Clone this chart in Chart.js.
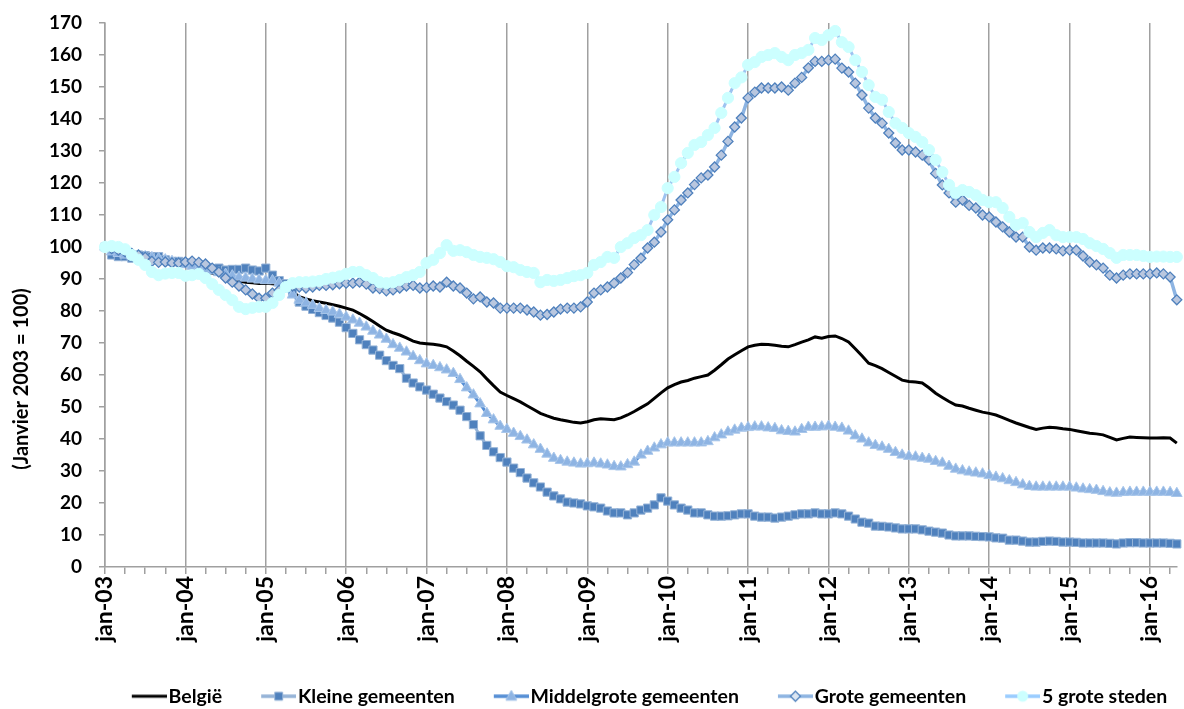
<!DOCTYPE html>
<html>
<head>
<meta charset="utf-8">
<script src="https://cdn.jsdelivr.net/npm/chart.js@4/dist/chart.umd.min.js"></script>
<style>
  html, body { margin: 0; padding: 0; background: #fff; }
</style>
</head>
<body>
<canvas id="chart" width="1184" height="709"></canvas>
<script>
// year labels shown on the x axis (one every 12 months)
const yearLabels = ['jan-03', 'jan-04', 'jan-05', 'jan-06', 'jan-07', 'jan-08', 'jan-09',
    'jan-10', 'jan-11', 'jan-12', 'jan-13', 'jan-14', 'jan-15', 'jan-16'];
const monthCount = 161; // jan-03 .. may-16

const seriesNames = ['België', 'Kleine gemeenten', 'Middelgrote gemeenten', 'Grote gemeenten', '5 grote steden'];
const yTitleText = '(Janvier 2003 = 100)';

const belgie = [
    100, 99.6, 99.2, 98.7, 98.2, 97.6, 97, 96.4, 95.8, 95.3, 94.8, 94.4,
    94, 93.5, 93, 92.4, 91.8, 91.2, 90.6, 90, 89.4, 89, 88.8, 88.6,
    88.7, 88.5, 88.2, 87.5, 86, 84.5, 83.8, 83.2, 82.8, 82.4, 82, 81.5,
    80.9, 80.3, 79.2, 78, 76.7, 75.3, 74, 73.2, 72.5, 71.6, 70.6, 70,
    69.8, 69.6, 69.3, 68.8, 67.5, 66, 64.3, 62.7, 61, 58.8, 56.7, 54.7,
    53.6, 52.6, 51.6, 50.4, 49.2, 48, 47.2, 46.5, 46, 45.6, 45.2, 45,
    45.4, 46, 46.3, 46.2, 46, 46.6, 47.5, 48.6, 49.8, 51, 52.7, 54.4,
    56, 57, 57.8, 58.3, 59, 59.5, 60, 61.5, 63.2, 65, 66.3, 67.6,
    68.8, 69.3, 69.6, 69.5, 69.3, 69, 68.8, 69.5, 70.3, 71, 71.9, 71.5,
    72, 72.2, 71.4, 70.3, 68.2, 66, 63.7, 62.9, 62, 60.8, 59.6, 58.4,
    58, 57.8, 57.5, 56, 54.3, 53, 51.7, 50.6, 50.3, 49.6, 49, 48.4,
    48, 47.5, 46.7, 45.8, 45, 44.3, 43.6, 43, 43.4, 43.7, 43.5, 43.2,
    43, 42.6, 42.2, 41.8, 41.6, 41.3, 40.5, 39.7, 40.2, 40.6, 40.5, 40.4,
    40.3, 40.3, 40.4, 40.3, 38.7
];

const kleine = [
    100, 97.5, 97, 97, 96.5, 97.5, 97.3, 97, 97, 96, 95.5, 95.5,
    95, 94.5, 94, 93.5, 93.2, 93.4, 92.8, 93, 93, 93.4, 92.8, 92.5,
    93.4, 91.2, 89.5, 88.5, 85.6, 82.8, 81.5, 80.5, 79.5, 78.6, 77.8, 76.5,
    74.8, 73, 71, 69.5, 67.8, 66.2, 64.5, 63, 62, 59, 57.5, 56.3,
    55.3, 54, 52.8, 51.7, 50.6, 49, 47, 44.5, 41, 38, 36, 34.2,
    32.8, 30.9, 29.5, 27.8, 26.3, 25, 23.4, 22.2, 21.3, 20.3, 20, 19.7,
    19.1, 18.8, 18.4, 17.5, 16.9, 16.9, 16.3, 16.9, 17.8, 18.4, 19.4, 21.6,
    20.6, 19.4, 18.4, 17.8, 16.9, 16.9, 16.3, 15.9, 15.9, 16, 16.3, 16.6,
    16.6, 15.9, 15.6, 15.6, 15.3, 15.6, 15.9, 16.3, 16.6, 16.6, 16.9, 16.6,
    16.6, 16.9, 16.6, 15.9, 15, 14, 13.7, 12.8, 12.7, 12.5, 12.2, 11.9,
    11.9, 11.9, 11.6, 11.2, 10.9, 10.6, 10, 9.7, 9.7, 9.7, 9.6, 9.5,
    9.4, 9.1, 9, 8.4, 8.4, 8.1, 7.8, 7.8, 8, 8.1, 8, 7.8,
    7.8, 7.7, 7.5, 7.5, 7.5, 7.5, 7.4, 7.2, 7.5, 7.6, 7.6, 7.5,
    7.5, 7.5, 7.5, 7.4, 7.2
];

const middelgrote = [
    100, 98.5, 98, 97.5, 97.2, 97.2, 97, 96.7, 96.4, 96, 95.5, 95,
    94.5, 94, 93.5, 93, 92.5, 92, 91.5, 91, 90.6, 90.3, 90, 89.7,
    89.5, 89.5, 88.7, 87, 85, 83.4, 82.5, 81.8, 80.8, 80.2, 79.7, 79,
    78.1, 77.2, 76.2, 75, 73.7, 72.5, 71.2, 69.5, 68.4, 67.2, 65.8, 64.5,
    63.5, 63, 62.3, 61.6, 60.5, 58.6, 56, 53.8, 51, 48, 46, 44,
    43, 41.8, 40.8, 39.7, 38.2, 36.8, 35.3, 34, 33.3, 32.8, 32.5, 32.2,
    32.3, 32.5, 32.2, 31.9, 31.4, 31.3, 32, 32.8, 35, 36.2, 37.2, 38.2,
    38.8, 38.8, 38.8, 38.8, 38.8, 38.8, 39.2, 40.4, 41.3, 42.2, 42.8, 43.4,
    43.6, 43.8, 43.8, 43.5, 43.3, 42.6, 42.4, 42.2, 43, 43.7, 43.7, 43.8,
    44, 43.7, 43.4, 42.5, 41, 40, 38.8, 38, 37.5, 36.8, 35.8, 35,
    34.6, 34.4, 34, 33.7, 33, 32.5, 31.5, 30.6, 30.1, 29.7, 29.4, 29.1,
    28.6, 28.1, 27.6, 27, 26.4, 25.7, 25.2, 25, 25, 25, 25, 25,
    25, 24.7, 24.4, 24.2, 24, 23.6, 23.2, 23.1, 23.3, 23.4, 23.4, 23.4,
    23.4, 23.4, 23.4, 23.3, 23
];

const grote = [
    100, 99.5, 99, 98.5, 98, 97.5, 96.8, 95.5, 95.2, 95.3, 95, 95,
    95.3, 95.6, 95.2, 94.7, 93.4, 92.2, 90.3, 89, 87.8, 86.6, 85.3, 84,
    84, 85.6, 86.5, 87.5, 87.8, 87.5, 87.2, 87.5, 88, 88, 88.2, 88.5,
    88.7, 88.7, 89, 88.4, 87.2, 87, 86.3, 86.6, 87.2, 87.8, 88, 87.2,
    87.3, 87.8, 87.5, 89, 87.8, 87.2, 85.6, 83.8, 84.4, 82.8, 82.5, 80.9,
    80.9, 80.9, 80.9, 80.3, 79.7, 78.7, 78.9, 79.7, 80.6, 80.9, 80.9, 81.3,
    82.8, 85.6, 86.6, 87.5, 88.7, 90.3, 92, 94.5, 96.5, 99.7, 101.5, 104.7,
    108.5, 111.6, 114.7, 116.9, 119.5, 121.6, 122.5, 125, 128.7, 133, 137.5, 140.3,
    146.6, 148.4, 149.7, 149.7, 149.7, 150, 149, 151.2, 153, 156, 158, 158,
    158.4, 158.7, 155.9, 154.7, 151.2, 147.5, 143.4, 140.3, 138.7, 135.6, 132.5, 130.3,
    130.3, 129.7, 128.7, 127.2, 123, 119.4, 116.9, 114, 114.7, 113, 112.2, 110,
    109.4, 107.8, 106.3, 104.7, 103.1, 103.1, 100, 99, 99.7, 99.7, 99.4, 98.8,
    99, 99, 97.2, 95.3, 94.4, 93.4, 91.2, 90.3, 91.2, 91.6, 91.6, 91.6,
    91.6, 91.9, 91.6, 90.6, 83.5
];

const steden = [
    100, 100.3, 100, 99.3, 97.5, 96, 94.4, 92.2, 91.2, 91.7, 91.9, 91.9,
    91, 91.2, 91.6, 90.3, 88.4, 86.6, 85, 83.4, 81.3, 80.6, 81, 81.3,
    81.3, 82.5, 85, 87.5, 88.7, 89, 89, 89.2, 89.4, 90, 90.4, 90.8,
    91.6, 92.2, 92.2, 91.2, 90.3, 89, 88.7, 89, 89.7, 90.6, 91.2, 92.2,
    95, 96, 98.1, 100.6, 98.8, 99, 98.4, 97.5, 96.9, 96.6, 96.2, 95.3,
    94, 93.7, 92.8, 92.2, 91.9, 89, 89.7, 89.4, 89.7, 90.3, 90.9, 91.2,
    91.9, 94.4, 95.3, 96.9, 96.6, 100, 101.2, 102.8, 103.7, 105.3, 110, 112.5,
    118.4, 121.9, 126.2, 129.4, 131.9, 132.8, 135, 137.2, 141.9, 146.6, 151.2, 153,
    156.9, 157.8, 159.4, 160, 160.6, 159.4, 158.4, 160, 160.6, 161.6, 165.3, 164.7,
    166.2, 167.5, 164, 162.5, 158.4, 154.7, 150.6, 146.9, 146, 142.2, 138.7, 137.2,
    135.6, 134.4, 132.8, 130.3, 127.2, 123.4, 119.4, 116.9, 117.8, 117.2, 116.2, 114.7,
    114, 114, 112.2, 109.4, 106.9, 107.5, 104.7, 103.1, 104.4, 105.3, 103.7, 103.1,
    103.1, 103.1, 102.5, 101.2, 100.3, 99.4, 98.1, 96.6, 97.5, 97.5, 97.5, 97.2,
    96.9, 97, 97, 96.9, 96.9
];

// one category per month, only januaries get a label
const categories = [];
for (let i = 0; i < monthCount; i++) {
    categories.push(i % 12 === 0 ? yearLabels[i / 12] : '');
}

const FONT = 'Lato';
const GRID = '#a0a0a0';

// legend swatch: line with the marker in the middle, left part left empty
function legendIcon(lineColor, lineWidth, marker, fill, stroke, strokeWidth) {
    const c = document.createElement('canvas');
    c.width = 46;
    c.height = 20;
    const g = c.getContext('2d');
    g.strokeStyle = lineColor;
    g.lineWidth = lineWidth;
    g.beginPath();
    g.moveTo(11, 10);
    g.lineTo(46, 10);
    g.stroke();
    if (!marker) return c;
    const x = 28.5, y = 10;
    g.beginPath();
    if (marker === 'rect') {
        g.rect(x - 4, y - 4, 8, 8);
    } else if (marker === 'triangle') {
        g.moveTo(x, y - 6);
        g.lineTo(x + 5.5, y + 4);
        g.lineTo(x - 5.5, y + 4);
        g.closePath();
    } else if (marker === 'rectRot') {
        g.moveTo(x, y - 5);
        g.lineTo(x + 5, y);
        g.lineTo(x, y + 5);
        g.lineTo(x - 5, y);
        g.closePath();
    } else {
        g.arc(x, y, 5.5, 0, Math.PI * 2);
    }
    g.fillStyle = fill;
    g.fill();
    if (strokeWidth) {
        g.strokeStyle = stroke;
        g.lineWidth = strokeWidth;
        g.stroke();
    }
    return c;
}

const icons = [
    legendIcon('#000000', 3, null),
    legendIcon('#95B3D7', 3.5, 'rect', '#4F81BD', '#95B3D7', 1),
    legendIcon('#558ED5', 3.5, 'triangle', '#8EB4E3', '#A8C6EA', 1),
    legendIcon('#8DB4E2', 3.5, 'rectRot', '#DCE6F2', '#4F81BD', 1.3),
    legendIcon('#99CCFF', 3.5, 'circle', '#CCFFFF', '#CCFFFF', 0)
];

// move the legend to where the spreadsheet put it
const legendPlace = {
    id: 'legendPlace',
    afterLayout(chart) {
        const lg = chart.legend;
        lg.left = 46;
        lg.right = 1250;
        lg.top += 7;
        lg.bottom += 7;
    }
};

// rotated axis title, placed lower than centre like the original
const yTitle = {
    id: 'yTitle',
    afterDraw(chart) {
        const c = chart.ctx;
        c.save();
        c.translate(22, 379);
        c.rotate(-Math.PI / 2);
        c.font = 'bold 20px ' + FONT;
        c.fillStyle = '#000';
        c.textAlign = 'center';
        c.textBaseline = 'middle';
        c.fillText(yTitleText, 0, 0);
        c.restore();
    }
};

const ctx = document.getElementById('chart').getContext('2d');
const chart = new Chart(ctx, {
    type: 'line',
    data: {
        labels: categories,
        datasets: [
            {
                label: seriesNames[0],
                data: belgie,
                borderColor: '#000000',
                borderWidth: 3,
                pointRadius: 0,
                order: 5
            },
            {
                label: seriesNames[1],
                data: kleine,
                borderColor: '#95B3D7',
                borderWidth: 3,
                pointStyle: 'rect',
                pointRadius: 5.8,
                pointBackgroundColor: '#4F81BD',
                pointBorderColor: '#95B3D7',
                pointBorderWidth: 1,
                order: 4
            },
            {
                label: seriesNames[2],
                data: middelgrote,
                borderColor: '#558ED5',
                borderWidth: 3,
                pointStyle: 'triangle',
                pointRadius: 6.2,
                pointBackgroundColor: '#8EB4E3',
                pointBorderColor: '#A8C6EA',
                pointBorderWidth: 1,
                order: 3
            },
            {
                label: seriesNames[3],
                data: grote,
                borderColor: '#8DB4E2',
                borderWidth: 3.5,
                pointStyle: 'rectRot',
                pointRadius: 5,
                pointBackgroundColor: '#B9C7DF',
                pointBorderColor: '#4F81BD',
                pointBorderWidth: 1.3,
                order: 2
            },
            {
                label: seriesNames[4],
                data: steden,
                borderColor: '#9DC3F0',
                borderWidth: 3,
                pointStyle: 'circle',
                pointRadius: 5.6,
                pointBackgroundColor: '#CCFFFF',
                pointBorderColor: '#CCFFFF',
                pointBorderWidth: 1,
                order: 1
            }
        ]
    },
    options: {
        responsive: false,
        animation: false,
        layout: {
            padding: {left: 0, right: 4, top: 23, bottom: 0}
        },
        plugins: {
            tooltip: {enabled: false},
            legend: {
                position: 'bottom',
                labels: {
                    usePointStyle: true,
                    pointStyleWidth: 30,
                    padding: 36,
                    color: '#000',
                    font: {family: FONT, size: 19.5, weight: 'bold'},
                    sort: (a, b) => a.datasetIndex - b.datasetIndex,
                    generateLabels: (chart) => {
                        const items = Chart.defaults.plugins.legend.labels.generateLabels(chart);
                        items.forEach(it => { it.pointStyle = icons[it.datasetIndex]; });
                        return items;
                    }
                }
            }
        },
        scales: {
            x: {
                offset: false,
                grid: {
                    color: (c) => c.index % 12 === 0 ? GRID : 'rgba(0,0,0,0)',
                    tickColor: (c) => c.index % 3 === 0 ? GRID : 'rgba(0,0,0,0)',
                    lineWidth: 1.5,
                    tickLength: 7
                },
                border: {color: GRID, width: 1.5},
                ticks: {
                    autoSkip: false,
                    minRotation: 90,
                    maxRotation: 90,
                    padding: 2,
                    color: '#000',
                    font: {family: FONT, size: 23, weight: 'bold'}
                },
                afterFit: (scale) => {
                    // keep the plot bottom where the reference has it
                    scale.height = 709 - 567 - scale.chart.legend.height;
                    scale.paddingLeft = 0;
                    scale.paddingRight = 0;
                }
            },
            y: {
                min: 0,
                max: 170,
                ticks: {
                    stepSize: 10,
                    padding: 17,
                    color: '#000',
                    font: {family: FONT, size: 19, weight: 'bold'}
                },
                grid: {
                    drawOnChartArea: false,
                    color: GRID,
                    lineWidth: 1.5,
                    tickLength: 6
                },
                border: {color: GRID, width: 1.5},
                afterFit: (scale) => {
                    scale.width = 105;
                    // tick padding would otherwise push the plot top down
                    scale.paddingTop = 0;
                    scale.paddingBottom = 0;
                }
            }
        }
    },
    plugins: [legendPlace, yTitle]
});

// redraw once the bold face is surely available
if (document.fonts && document.fonts.load) {
    Promise.all([
        document.fonts.load('bold 19px ' + FONT),
        document.fonts.load('bold 23px ' + FONT)
    ]).then(() => chart.update()).catch(() => {});
}
</script>
</body>
</html>
